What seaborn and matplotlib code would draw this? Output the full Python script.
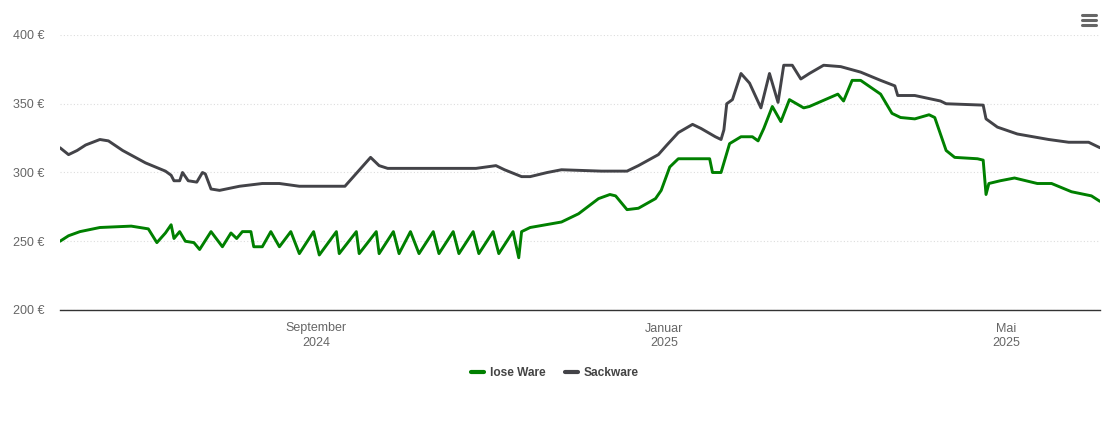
import matplotlib
matplotlib.use("Agg")
import matplotlib.pyplot as plt
from matplotlib.lines import Line2D
import pandas as pd
import seaborn as sns

# Preisverlauf lose Ware (Datum, Euro)
lose_datum = [
    "2024-06-03", "2024-06-06", "2024-06-10", "2024-06-17", "2024-06-28", "2024-07-04",
    "2024-07-07", "2024-07-10", "2024-07-12", "2024-07-13", "2024-07-15", "2024-07-17",
    "2024-07-20", "2024-07-22", "2024-07-26", "2024-07-30", "2024-08-02", "2024-08-04",
    "2024-08-06", "2024-08-09", "2024-08-10", "2024-08-13", "2024-08-16", "2024-08-19",
    "2024-08-23", "2024-08-26", "2024-08-31", "2024-09-02", "2024-09-08", "2024-09-09",
    "2024-09-15", "2024-09-16", "2024-09-22", "2024-09-23", "2024-09-28", "2024-09-30",
    "2024-10-04", "2024-10-07", "2024-10-12", "2024-10-14", "2024-10-19", "2024-10-21",
    "2024-10-26", "2024-10-28", "2024-11-02", "2024-11-04", "2024-11-09", "2024-11-11",
    "2024-11-12", "2024-11-15", "2024-11-26", "2024-12-02", "2024-12-09", "2024-12-13",
    "2024-12-15", "2024-12-19", "2024-12-23", "2024-12-29", "2024-12-31", "2025-01-03",
    "2025-01-06", "2025-01-10", "2025-01-17", "2025-01-18", "2025-01-21", "2025-01-24",
    "2025-01-28", "2025-02-01", "2025-02-03", "2025-02-05", "2025-02-08", "2025-02-11",
    "2025-02-14", "2025-02-19", "2025-02-21", "2025-03-03", "2025-03-05", "2025-03-08",
    "2025-03-11", "2025-03-18", "2025-03-22", "2025-03-25", "2025-03-30", "2025-04-04",
    "2025-04-06", "2025-04-10", "2025-04-13", "2025-04-21", "2025-04-23", "2025-04-24",
    "2025-04-25", "2025-04-29", "2025-05-04", "2025-05-12", "2025-05-17", "2025-05-24",
    "2025-05-31", "2025-06-03",
]
lose_preis = [
    250, 254, 257, 260, 261, 259,
    249, 256, 262, 252, 257, 250,
    249, 244, 257, 246, 256, 252,
    257, 257, 246, 246, 257, 246,
    257, 241, 257, 240, 257, 241,
    257, 241, 257, 241, 257, 241,
    257, 241, 257, 241, 257, 241,
    257, 241, 257, 241, 257, 238,
    257, 260, 264, 270, 281, 284,
    283, 273, 274, 281, 287, 304,
    310, 310, 310, 300, 300, 321,
    326, 326, 323, 332, 348, 337,
    353, 347, 348, 357, 352, 367,
    367, 357, 343, 340, 339, 342,
    340, 316, 311, 310, 309, 284,
    292, 294, 296, 292, 292, 286,
    283, 279,
]

# Preisverlauf Sackware (Datum, Euro)
sack_datum = [
    "2024-06-03", "2024-06-06", "2024-06-09", "2024-06-12", "2024-06-17", "2024-06-20",
    "2024-06-25", "2024-07-03", "2024-07-10", "2024-07-12", "2024-07-13", "2024-07-15",
    "2024-07-16", "2024-07-18", "2024-07-21", "2024-07-23", "2024-07-24", "2024-07-26",
    "2024-07-29", "2024-08-05", "2024-08-13", "2024-08-19", "2024-08-26", "2024-09-01",
    "2024-09-11", "2024-09-14", "2024-09-20", "2024-09-23", "2024-09-26", "2024-10-27",
    "2024-11-03", "2024-11-06", "2024-11-12", "2024-11-15", "2024-11-21", "2024-11-26",
    "2024-12-10", "2024-12-19", "2024-12-23", "2024-12-30", "2025-01-02", "2025-01-06",
    "2025-01-11", "2025-01-14", "2025-01-19", "2025-01-21", "2025-01-22", "2025-01-23",
    "2025-01-25", "2025-01-28", "2025-01-31", "2025-02-04", "2025-02-07", "2025-02-10",
    "2025-02-12", "2025-02-15", "2025-02-18", "2025-02-21", "2025-02-26", "2025-03-04",
    "2025-03-11", "2025-03-18", "2025-03-23", "2025-03-24", "2025-03-30", "2025-04-08",
    "2025-04-10", "2025-04-23", "2025-04-24", "2025-04-28", "2025-05-05", "2025-05-16",
    "2025-05-23", "2025-05-30", "2025-06-03",
]
sack_preis = [
    318, 313, 316, 320, 324, 323,
    316, 307, 301, 298, 294, 294,
    300, 294, 293, 300, 299, 288,
    287, 290, 292, 292, 290, 290,
    290, 297, 311, 305, 303, 303,
    305, 302, 297, 297, 300, 302,
    301, 301, 305, 313, 320, 329,
    335, 332, 326, 324, 331, 350,
    353, 372, 365, 347, 372, 351,
    378, 378, 368, 372, 378, 377,
    373, 367, 363, 356, 356, 352,
    350, 349, 339, 333, 328, 324,
    322, 322, 318,
]

sorten = ["lose Ware", "Sackware"]
farben = {"lose Ware": "#008000", "Sackware": "#434348"}

df = pd.concat([
    pd.DataFrame({"datum": pd.to_datetime(lose_datum), "preis": lose_preis, "sorte": sorten[0]}),
    pd.DataFrame({"datum": pd.to_datetime(sack_datum), "preis": sack_preis, "sorte": sorten[1]}),
])

sns.set_theme(style="white")
plt.rcParams["font.family"] = ["Liberation Sans", "DejaVu Sans"]

fig = plt.figure(figsize=(11.1, 4.23), dpi=100)
ax = fig.add_axes([60 / 1110, 1 - 310 / 423, 1040 / 1110, 275 / 423])

sns.lineplot(data=df, x="datum", y="preis", hue="sorte", hue_order=sorten,
             palette=farben, estimator=None, linewidth=2.1, ax=ax, legend=False)

ax.set_xlim(pd.Timestamp("2024-06-03"), pd.Timestamp("2025-06-03"))
ax.set_ylim(200, 400)
ax.set_yticks([200, 250, 300, 350, 400])
ax.set_yticklabels([f"{v} €" for v in [200, 250, 300, 350, 400]])
ax.set_xticks([pd.Timestamp("2024-09-01"), pd.Timestamp("2025-01-01"), pd.Timestamp("2025-05-01")])
ax.set_xticklabels(["September\n2024", "Januar\n2025", "Mai\n2025"])
ax.set_xlabel("")
ax.set_ylabel("")

ax.grid(axis="y", color="#dddddd", linestyle=(0, (1, 2)), linewidth=0.8)
ax.grid(axis="x", visible=False)
for s in ["top", "right", "left"]:
    ax.spines[s].set_visible(False)
ax.spines["bottom"].set_color("#333333")
ax.spines["bottom"].set_linewidth(1)
ax.tick_params(axis="x", colors="#666666", labelsize=9, length=7, width=1, direction="out",
               color="#333333", pad=2)
ax.tick_params(axis="y", colors="#666666", labelsize=9, length=0, pad=11)
for lab in ax.get_xticklabels():
    lab.set_linespacing(1.25)

handles = [Line2D([0], [0], color=farben[s], linewidth=3) for s in sorten]
leg = fig.legend(handles, sorten, loc="center", bbox_to_anchor=(0.5, 1 - 373 / 423), ncol=2,
                 frameon=False, handlelength=1.1, handletextpad=0.5, columnspacing=1.6,
                 prop={"weight": "bold", "size": 8.6})
for t in leg.get_texts():
    t.set_color("#444444")

# Menü-Symbol oben rechts
for yy in [15, 20, 25]:
    fig.add_artist(Line2D([1082 / 1110, 1096 / 1110], [1 - yy / 423, 1 - yy / 423],
                          color="#666666", linewidth=2.2, solid_capstyle="round"))

fig.savefig("out.png", dpi=100)
